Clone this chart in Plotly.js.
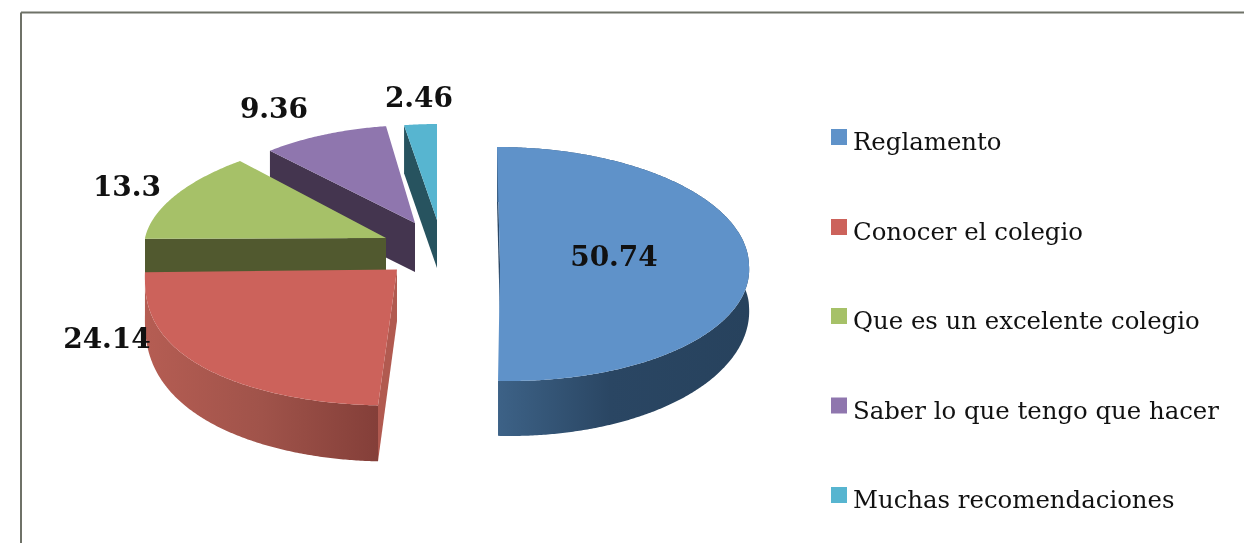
<!DOCTYPE html>
<html>
<head>
<meta charset="utf-8">
<script src="https://cdn.plot.ly/plotly-3.0.1.min.js"></script>
<style>html,body{margin:0;padding:0;background:#fff}#chart{width:1244px;height:543px;filter:blur(0.45px)}</style>
</head>
<body>
<div id="chart"></div>
<script>
// ---- data ----
const categories = ["Reglamento", "Conocer el colegio", "Que es un excelente colegio", "Saber lo que tengo que hacer", "Muchas recomendaciones"];
const values = [50.74, 24.14, 13.3, 9.36, 2.46];
const valueLabels = ["50.74", "24.14", "13.3", "9.36", "2.46"];

// ---- styling / projection of each wedge (1 axis unit = 1 screen pixel) ----
const colors = ["#5f92c9", "#cc625b", "#a6c168", "#8f76ae", "#57b5d0"];
const faceColors = ["#2b4765", "#b15a50", "#51592f", "#44354f", "#27535f"];
const wedgeStyle = [
  {cx:500, cy:265, rx:249, ry:118, ryf:116, p:1,  sh:-3, sh2:-9.6, d:55, dk:.25, side:["#3d6287", "#2a4663", "#27425d"], sideStop:.45},
  {cx:397, cy:269.5, rx:252, ry:136, ryf:136, p:.8, sh:0, sh2:7.3, d:56, dk:.25, side:["#b55d53", "#a0534a", "#843f39"], sideStop:.5},
  {cx:386, cy:238, rx:241, ry:104.5, ryf:104.5, p:1, sh:23, sh2:0, d:35, dk:0},
  {cx:415, cy:223, rx:220, ry:98, ryf:98, p:1, sh:5, sh2:0, d:49, dk:0},
  {cx:437, cy:220, rx:214, ry:96, ryf:96, p:1, sh:0, sh2:0, d:48, dk:0}
];
const drawOrder = [3, 4, 2, 1, 0];
const labelX = [614, 107, 127, 274, 419];
const labelY = [259, 341, 189, 111, 100];
const legendY = [137, 227, 316, 405.5, 495];

// ---- build wedges from the values ----
const total = values.reduce((a, b) => a + b, 0);
let cum = 0;
const ranges = values.map(v => { const r = [cum / total * 360, (cum + v) / total * 360]; cum += v; return r; });

function pt(s, deg) {
  const t = deg * Math.PI / 180, c = Math.cos(t), n = Math.sin(t);
  const x = s.cx + s.rx * n + (c >= 0 ? s.sh : s.sh2) * c;
  const y = c >= 0 ? s.cy - s.ry * c : s.cy + s.ryf * Math.pow(-c, s.p);
  return [x, y, s.d * (1 - s.dk * (1 - Math.abs(c)))];
}
function arc(s, a, b) {
  const out = [], n = Math.max(24, Math.round((b - a) / 0.5));
  for (let i = 0; i <= n; i++) out.push(pt(s, a + (b - a) * i / n));
  return out;
}
function poly(xs, ys, color, grad) {
  const tr = {type:"scatter", mode:"lines", x:xs.concat(xs[0]), y:ys.concat(ys[0]), fill:"toself",
              line:{width:0, color:color, simplify:false}, fillcolor:color, hoverinfo:"skip", showlegend:false};
  if (grad) tr.fillgradient = {type:"horizontal", colorscale:grad};
  return tr;
}
const traces = [];
drawOrder.forEach(i => {
  const s = wedgeStyle[i], [a, b] = ranges[i], A = arc(s, a, b);
  const st = A[0];
  // radial face at the start of the wedge
  traces.push(poly([st[0], s.cx, s.cx, st[0]], [st[1], s.cy, s.cy + s.d * (i === 1 ? .92 : 1), st[1] + st[2]], faceColors[i]));
  // curved outer wall
  if (s.side) {
    const xs = A.map(p => p[0]).concat(A.slice().reverse().map(p => p[0]));
    const ys = A.map(p => p[1]).concat(A.slice().reverse().map(p => p[1] + p[2]));
    traces.push(poly(xs, ys, s.side[1], [[0, s.side[0]], [s.sideStop, s.side[1]], [1, s.side[2]]]));
  }
  // top surface
  traces.push(poly([s.cx].concat(A.map(p => p[0])), [s.cy].concat(A.map(p => p[1])), colors[i]));
});

// value labels
traces.push({type:"scatter", mode:"text", x:labelX, y:labelY, text:valueLabels, textposition:"middle center",
  textfont:{family:"DejaVu Serif", size:28, color:"#111", weight:"bold"}, hoverinfo:"skip", showlegend:false, cliponaxis:false});
// legend swatches and names
traces.push({type:"scatter", mode:"markers", x:categories.map(() => 839), y:legendY,
  marker:{symbol:"square", size:16, color:colors, line:{width:0}}, hoverinfo:"skip", showlegend:false});
traces.push({type:"scatter", mode:"text", x:categories.map(() => 853), y:legendY.map(v => v + 7), text:categories,
  textposition:"middle right", textfont:{family:"DejaVu Serif", size:24.4, color:"#111"}, hoverinfo:"skip", showlegend:false, cliponaxis:false});

const frameColor = "#6f7268";
Plotly.newPlot("chart", traces, {
  width:1244, height:543, margin:{l:0, r:0, t:0, b:0}, paper_bgcolor:"#fff", plot_bgcolor:"#fff", showlegend:false,
  xaxis:{range:[0, 1244], visible:false, fixedrange:true},
  yaxis:{range:[543, 0], visible:false, fixedrange:true},
  shapes:[
    {type:"line", xref:"paper", yref:"paper", x0:21/1244, x1:1, y0:1 - 12.5/543, y1:1 - 12.5/543, line:{color:frameColor, width:2}},
    {type:"line", xref:"paper", yref:"paper", x0:21/1244, x1:21/1244, y0:1 - 12.5/543, y1:0, line:{color:frameColor, width:2}}
  ]
}, {displayModeBar:false, staticPlot:true});
</script>
</body>
</html>
